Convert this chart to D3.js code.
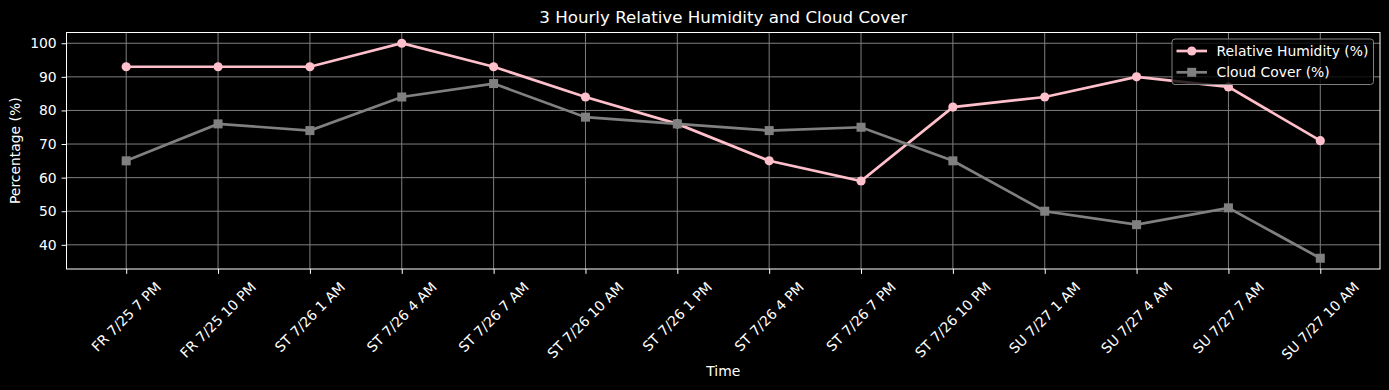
<!DOCTYPE html>
<html>
<head>
<meta charset="utf-8">
<script src="https://cdn.jsdelivr.net/npm/d3@7"></script>
<style>
  html, body { margin: 0; padding: 0; background: #000; }
  svg { display: block; font-family: "DejaVu Sans", sans-serif; }
</style>
</head>
<body>
<svg id="chart" width="1389" height="390"></svg>
<script>
const times = ['FR 7/25 7 PM', 'FR 7/25 10 PM', 'ST 7/26 1 AM', 'ST 7/26 4 AM', 'ST 7/26 7 AM',
  'ST 7/26 10 AM', 'ST 7/26 1 PM', 'ST 7/26 4 PM', 'ST 7/26 7 PM', 'ST 7/26 10 PM',
  'SU 7/27 1 AM', 'SU 7/27 4 AM', 'SU 7/27 7 AM', 'SU 7/27 10 AM'];
const humidity = [93, 93, 93, 100, 93, 84, 76, 65, 59, 81, 84, 90, 87, 71];
const cloudCover = [65, 76, 74, 84, 88, 78, 76, 74, 75, 65, 50, 46, 51, 36];
const yTicks = [40, 50, 60, 70, 80, 90, 100];

const FS = 13.9;

const svg = d3.select('#chart');
const margin = { top: 32.5, right: 9, bottom: 121, left: 66.5 };
const width = 1389 - margin.left - margin.right;
const height = 390 - margin.top - margin.bottom;

const x = d3.scaleLinear().domain([-0.65, times.length - 1 + 0.65]).range([0, width]);
const y = d3.scaleLinear().domain([32.8, 103.2]).range([height, 0]);

const g = svg.append('g').attr('transform', `translate(${margin.left},${margin.top})`);

// grid
g.append('g').selectAll('line').data(times).join('line')
  .attr('x1', (d, i) => x(i)).attr('x2', (d, i) => x(i))
  .attr('y1', 0).attr('y2', height)
  .attr('stroke', '#7f7f7f').attr('stroke-width', 1);
g.append('g').selectAll('line').data(yTicks).join('line')
  .attr('x1', 0).attr('x2', width)
  .attr('y1', d => y(d)).attr('y2', d => y(d))
  .attr('stroke', '#7f7f7f').attr('stroke-width', 1);

// y axis
const yAxis = g.append('g')
  .call(d3.axisLeft(y).tickValues(yTicks).tickSize(4.9).tickPadding(4.9));
yAxis.select('.domain').remove();
yAxis.selectAll('line').attr('stroke', '#fff');
yAxis.selectAll('text').attr('fill', '#fff').style('font-size', FS + 'px').style('font-family', 'DejaVu Sans');

// x axis ticks
const xAxis = g.append('g').attr('transform', `translate(0,${height})`)
  .call(d3.axisBottom(x).tickValues(d3.range(times.length)).tickSize(4.9).tickFormat(''));
xAxis.select('.domain').remove();
xAxis.selectAll('line').attr('stroke', '#fff');

// rotated x labels, centred on the tick like matplotlib
const labelTop = height + 9.8;
g.append('g').selectAll('text').data(times).join('text')
  .attr('fill', '#fff')
  .style('font-size', FS + 'px')
  .attr('text-anchor', 'middle')
  .attr('dy', '0.35em')
  .text(d => d)
  .attr('transform', function (d, i) {
    const w = this.getComputedTextLength();
    const h = FS * 1.16;
    const off = (w + h) / (2 * Math.SQRT2);
    return `translate(${x(i)},${labelTop + off}) rotate(-45)`;
  });

// frame
g.append('rect').attr('width', width).attr('height', height)
  .attr('fill', 'none').attr('stroke', '#fff').attr('stroke-width', 1);

// lines
const series = [
  { name: 'Relative Humidity (%)', values: humidity, color: '#ffc0cb', marker: 'circle' },
  { name: 'Cloud Cover (%)', values: cloudCover, color: '#808080', marker: 'square' }
];

const line = d3.line().x((d, i) => x(i)).y(d => y(d));

function drawMarker(sel, type, color) {
  if (type === 'circle') {
    sel.append('circle').attr('r', 4.6).attr('fill', color);
  } else {
    sel.append('rect').attr('x', -4.5).attr('y', -4.5).attr('width', 9).attr('height', 9).attr('fill', color);
  }
}

series.forEach(s => {
  g.append('path').datum(s.values)
    .attr('fill', 'none').attr('stroke', s.color).attr('stroke-width', 2.7)
    .attr('d', line);
  g.append('g').selectAll('g').data(s.values).join('g')
    .attr('transform', (d, i) => `translate(${x(i)},${y(d)})`)
    .each(function () { drawMarker(d3.select(this), s.marker, s.color); });
});

// legend
const legend = g.append('g').attr('transform', `translate(${width - 208},${6.5})`);
legend.append('rect').attr('width', 201.5).attr('height', 45.5).attr('rx', 3)
  .attr('fill', '#000').attr('fill-opacity', 0.8)
  .attr('stroke', '#808080').attr('stroke-width', 1);
series.forEach((s, i) => {
  const row = legend.append('g').attr('transform', `translate(4.5,${12 + i * 21.3})`);
  row.append('line').attr('x1', 0).attr('x2', 30.5).attr('stroke', s.color).attr('stroke-width', 2.7);
  drawMarker(row.append('g').attr('transform', 'translate(15.25,0)'), s.marker, s.color);
  row.append('text').attr('x', 40).attr('dy', '0.35em').attr('fill', '#fff')
    .style('font-size', FS + 'px').text(s.name);
});

// titles
svg.append('text').attr('x', margin.left + width / 2).attr('y', 23)
  .attr('text-anchor', 'middle').attr('fill', '#fff').style('font-size', '16.7px')
  .text('3 Hourly Relative Humidity and Cloud Cover');
svg.append('text').attr('x', margin.left + width / 2).attr('y', 376)
  .attr('text-anchor', 'middle').attr('fill', '#fff').style('font-size', FS + 'px')
  .text('Time');
svg.append('text').attr('transform', `translate(20,${margin.top + height / 2}) rotate(-90)`)
  .attr('text-anchor', 'middle').attr('fill', '#fff').style('font-size', FS + 'px')
  .text('Percentage (%)');
</script>
</body>
</html>
